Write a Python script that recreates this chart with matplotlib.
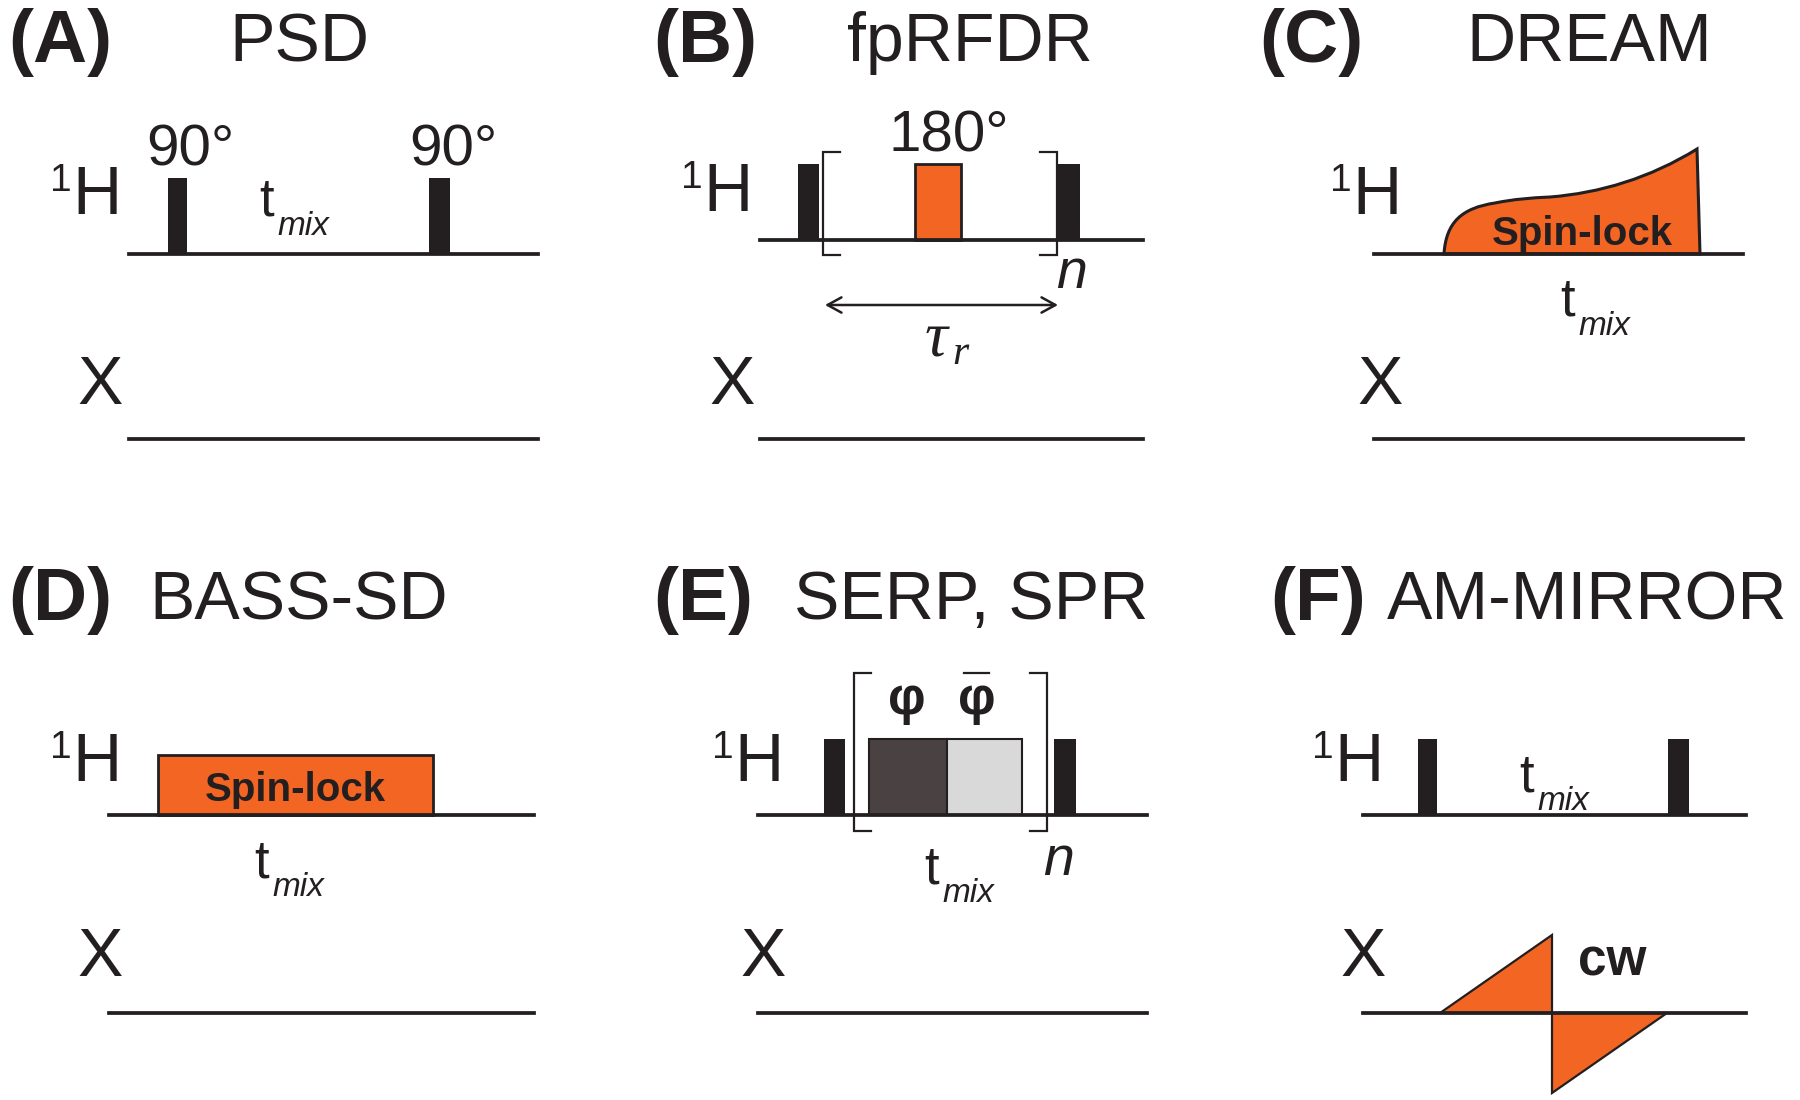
import matplotlib
matplotlib.use("Agg")
import matplotlib.pyplot as plt
from matplotlib.patches import Polygon, Rectangle, PathPatch
from matplotlib.path import Path

plt.rcParams["font.family"] = ["Liberation Sans", "DejaVu Sans"]

INK = "#231f20"
ORANGE = "#f26522"

# panel letters and titles: text, letter x, title x, baseline
panel_letters = ["(A)", "(B)", "(C)", "(D)", "(E)", "(F)"]
letter_x = [8, 653, 1259, 8, 653, 1270]
letter_y = [62, 62, 62, 620, 620, 620]
panel_titles = ["PSD", "fpRFDR", "DREAM", "BASS-SD", "SERP, SPR", "AM-MIRROR"]
title_x = [229, 847, 1466, 149, 794, 1387]
title_y = [61, 61, 61, 619, 619, 619]

# channel lines: x start, x end, 1H y, X y
line_x0 = [129, 760, 1374, 109, 758, 1363]
line_x1 = [538, 1143, 1743, 534, 1147, 1746]
line_h_y = [254, 240, 254, 815, 815, 815]
line_x_y = [439, 439, 439, 1013, 1013, 1013]

# channel labels: x of the "1", x of the H, baseline; x of X, baseline
label_1_x = [50, 681, 1330, 50, 712, 1312]
label_h_x = [72, 703, 1352, 72, 734, 1334]
label_h_y = [214, 211, 214, 781, 781, 781]
label_x_x = [77, 709, 1357, 77, 740, 1340]
label_x_y = [404, 404, 404, 976, 976, 976]

# black hard pulses: x0, x1, top, baseline
hard_pulses = [
    (168, 187, 178, 254), (429, 450, 178, 254),
    (798, 819, 164, 240), (1058, 1080, 164, 240),
    (824, 845, 739, 815), (1054, 1076, 739, 815),
    (1418, 1437, 739, 815), (1668, 1689, 739, 815),
]

# tmix labels: x of t, baseline
tmix_x = [259, 1560, 254, 924, 1519]
tmix_y = [216, 316, 877, 883, 791]

spin_lock_labels = [(1582, 231), (295, 787)]
n_labels = [(1056, 288), (1043, 875)]
angle_labels = [("90°", 190, 165), ("90°", 453, 165), ("180°", 949, 152)]

# DREAM ramp outline, cubic segments
dream_verts = [(1444, 254), (1446, 222), (1462, 208), (1495, 203),
               (1515, 199), (1530, 198), (1550, 197),
               (1600, 193), (1650, 178), (1697, 149)]
# AM-MIRROR triangles
am_up = [(1440, 1013), (1552, 935), (1552, 1013)]
am_down = [(1552, 1013), (1552, 1093), (1667, 1013)]

fig = plt.figure(figsize=(18, 11), dpi=100)
ax = fig.add_axes([0, 0, 1, 1])
ax.set_xlim(0, 1800)
ax.set_ylim(1100, 0)
ax.axis("off")


def label(x, y, s, size, **kw):
    kw.setdefault("color", INK)
    ax.text(x, y, s, fontsize=size, ha=kw.pop("ha", "left"), va="baseline", **kw)


def tmix(x, y):
    label(x, y, "t", 38)
    label(x + 18, y + 19, "mix", 24, style="italic")


def bracket(x, y0, y1, side):
    ax.plot([x + side * 17, x, x, x + side * 17], [y0, y0, y1, y1],
            color=INK, lw=1.6, solid_joinstyle="miter", zorder=4)


# panel heads
for s, x, y in zip(panel_letters, letter_x, letter_y):
    label(x, y, s, 54, weight="bold")
for s, x, y in zip(panel_titles, title_x, title_y):
    label(x, y, s, 49)

# channel lines
for x0, x1, yh, yx in zip(line_x0, line_x1, line_h_y, line_x_y):
    ax.plot([x0, x1], [yh, yh], color=INK, lw=2.7, zorder=3)
    ax.plot([x0, x1], [yx, yx], color=INK, lw=2.7, zorder=3)

# channel labels
for x1, xh, yh, xx, yx in zip(label_1_x, label_h_x, label_h_y, label_x_x, label_x_y):
    label(x1, yh - 23, "1", 28)
    label(xh, yh, "H", 49)
    label(xx, yx, "X", 49)

for x0, x1, top, base in hard_pulses:
    ax.add_patch(Rectangle((x0, top), x1 - x0, base - top, fc=INK, ec="none", zorder=2))

for x, y in zip(tmix_x, tmix_y):
    tmix(x, y)
for s, x, y in angle_labels:
    label(x, y, s, 42, ha="center")

# fpRFDR
ax.add_patch(Rectangle((915, 164), 46, 76, fc=ORANGE, ec=INK, lw=2, zorder=2))
bracket(823, 152, 255, 1)
bracket(1057, 152, 255, -1)
ax.annotate("", xy=(825, 305), xytext=(1058, 305),
            arrowprops=dict(arrowstyle="<->,head_width=0.55,head_length=1.0", color=INK, lw=1.8,
                            shrinkA=0, shrinkB=0))
label(925, 356, "τ", 46, family="Liberation Serif", style="italic")
label(952, 364, "r", 30, family="Liberation Serif", style="italic")

# DREAM
codes = [Path.MOVETO] + [Path.CURVE4] * 9 + [Path.LINETO, Path.CLOSEPOLY]
verts = dream_verts + [(1700, 254), (1444, 254)]
ax.add_patch(PathPatch(Path(verts, codes), fc=ORANGE, ec=INK, lw=2.2, joinstyle="miter", zorder=2))

# BASS-SD
ax.add_patch(Rectangle((158, 755), 275, 60, fc=ORANGE, ec=INK, lw=2, zorder=2))
for x, y in spin_lock_labels:
    label(x, y + 14, "Spin-lock", 29, weight="bold", ha="center", zorder=5)

# SERP, SPR
ax.add_patch(Rectangle((869, 739), 78, 76, fc="#4a4143", ec=INK, lw=1.5, zorder=2))
ax.add_patch(Rectangle((947, 739), 75, 76, fc="#d9d9d9", ec=INK, lw=1.5, zorder=2))
bracket(854, 673, 831, 1)
bracket(1047, 673, 831, -1)
label(907, 714, "φ", 38, weight="bold", ha="center")
label(977, 714, "φ", 38, weight="bold", ha="center")
ax.plot([964, 989], [673, 673], color=INK, lw=1.6)

for x, y in n_labels:
    label(x, y, "n", 40, style="italic")

# AM-MIRROR
ax.add_patch(Polygon(am_up, closed=True, fc=ORANGE, ec=INK, lw=1.6, zorder=2))
ax.add_patch(Polygon(am_down, closed=True, fc=ORANGE, ec=INK, lw=1.6, zorder=2))
label(1612, 975, "cw", 37, weight="bold", ha="center")

fig.savefig("out.png", dpi=100)
